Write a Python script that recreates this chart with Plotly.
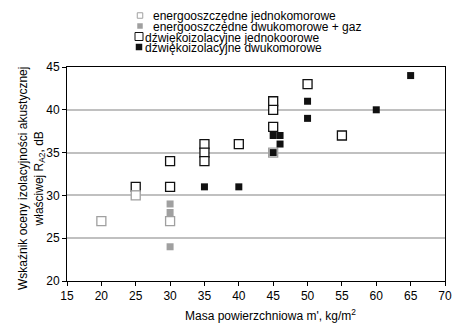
import plotly.graph_objects as go

# Data
ej_x = [20, 25, 30, 45]
ej_y = [27, 30, 27, 35]
ed_x = [30, 30, 30]
ed_y = [29, 28, 24]
dj_x = [25, 30, 30, 35, 35, 35, 40, 45, 45, 45, 50, 55]
dj_y = [31, 31, 34, 36, 35, 34, 36, 41, 40, 38, 43, 37]
dd_x = [35, 40, 45, 45, 46, 46, 50, 50, 60, 65]
dd_y = [31, 31, 35, 37, 37, 36, 41, 39, 40, 44]
names = ["energooszczędne jednokomorowe", "energooszczędne dwukomorowe + gaz",
         "dźwiękoizolacyjne jednokoorowe", "dźwiękoizolacyjne dwukomorowe"]
x_ticks = [15, 20, 25, 30, 35, 40, 45, 50, 55, 60, 65, 70]
y_ticks = [20, 25, 30, 35, 40, 45]

GRAY = "#a0a0a0"
L, R, T, B = 67, 7, 67, 45
W, H = 452, 326
PW, PH = W - L - R, H - T - B

def px(x):
    return (x - L) / PW

def py(y):
    return (H - B - y) / PH

fig = go.Figure()
fig.add_trace(go.Scatter(x=dj_x, y=dj_y, mode="markers", name=names[2],
    marker=dict(symbol="square", size=9, color="white", line=dict(color="#111111", width=1.3))))
fig.add_trace(go.Scatter(x=ej_x, y=ej_y, mode="markers", name=names[0],
    marker=dict(symbol="square", size=9, color="white", line=dict(color=GRAY, width=1.3))))
fig.add_trace(go.Scatter(x=ed_x, y=ed_y, mode="markers", name=names[1],
    marker=dict(symbol="square", size=7, color=GRAY, line=dict(width=0))))
fig.add_trace(go.Scatter(x=dd_x, y=dd_y, mode="markers", name=names[3],
    marker=dict(symbol="square", size=7, color="#111111", line=dict(width=0))))

font = dict(family="Liberation Sans, Arial, sans-serif", size=12, color="black")

# Compact legend from shapes + annotations
text_y = [16.5, 27, 37.5, 48]
mark_y = [15.5, 26, 36.5, 47]
legend_style = [
    dict(w=5.5, cx=140, fill="white", line=GRAY, lw=1, tx=152),
    dict(w=5.5, cx=140, fill=GRAY, line=GRAY, lw=0, tx=152),
    dict(w=8, cx=139, fill="white", line="#111111", lw=1, tx=143.5),
    dict(w=6.5, cx=139, fill="#111111", line="#111111", lw=0, tx=143.5),
]
shapes = []
annotations = []
for i, (nm, st) in enumerate(zip(names, legend_style)):
    cy = mark_y[i]
    cx = st["cx"]
    h = st["w"] / 2
    shapes.append(dict(type="rect", xref="paper", yref="paper", layer="above",
        x0=px(cx - h), x1=px(cx + h), y0=py(cy + h), y1=py(cy - h),
        fillcolor=st["fill"], line=dict(color=st["line"], width=st["lw"])))
    annotations.append(dict(text=nm, xref="paper", yref="paper",
        x=px(st["tx"]), y=py(text_y[i]), xanchor="left", yanchor="middle",
        showarrow=False, font=font, borderpad=0))

# Axis titles as annotations
annotations.append(dict(text="Masa powierzchniowa m', kg/m<sup>2</sup>", xref="paper", yref="paper",
    x=px(270), y=py(315), xanchor="center", yanchor="middle", showarrow=False, font=font))
annotations.append(dict(text="Wskaźnik oceny izolacyjności akustycznej<br>właściwej R<sub>A2</sub>, dB",
    xref="paper", yref="paper", x=px(31), y=py(179), xanchor="center", yanchor="middle",
    textangle=-90, showarrow=False, font=font))

fig.update_layout(
    width=W, height=H,
    margin=dict(l=L, r=R, t=T, b=B),
    paper_bgcolor="white", plot_bgcolor="white",
    font=font, showlegend=False,
    shapes=shapes, annotations=annotations,
    xaxis=dict(range=[15, 70], tickvals=x_ticks, ticks="outside", ticklen=4,
               tickcolor="black", showline=True, linecolor="black", linewidth=1,
               mirror=True, showgrid=False, zeroline=False, automargin=False,
               tickfont=font),
    yaxis=dict(range=[20, 45], tickvals=y_ticks, ticks="outside", ticklen=4,
               tickcolor="black", showline=True, linecolor="black", linewidth=1,
               mirror=True, showgrid=True, gridcolor="#c0c0c0", gridwidth=1.5,
               zeroline=False, automargin=False, tickfont=font),
)
fig.write_html("out.html", config={"displayModeBar": False},
               post_script="document.body.style.margin='0';document.body.style.overflow='hidden';")
